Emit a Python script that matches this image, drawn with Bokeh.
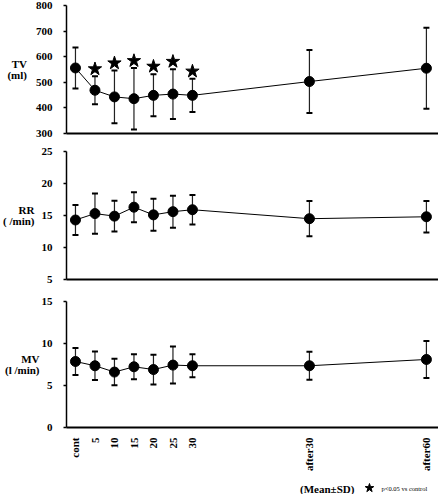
import math
from bokeh.plotting import figure
from bokeh.layouts import column
from bokeh.models import (ColumnDataSource, Whisker, TeeHead, FixedTicker, LinearAxis)
from bokeh.core.properties import value
from bokeh.embed import file_html
from bokeh.resources import INLINE

# ---------------- data ----------------
time = [0, 5, 10, 15, 20, 25, 30, 60, 90]
tick_labels = ["cont", "5", "10", "15", "20", "25", "30", "after30", "after60"]

tv_mean = [556, 469, 443, 436, 449, 454, 449, 503, 555]
tv_sd = [80, 55, 103, 120, 82, 97, 65, 123, 158]
star_time = [5, 10, 15, 20, 25, 30]
star_y = [552, 575, 584, 562, 581, 543]

rr_mean = [14.3, 15.3, 14.9, 16.3, 15.1, 15.6, 15.9, 14.5, 14.8]
rr_sd = [2.35, 3.15, 2.4, 2.35, 2.5, 2.5, 2.3, 2.75, 2.45]

mv_mean = [7.86, 7.35, 6.6, 7.23, 6.9, 7.43, 7.35, 7.35, 8.1]
mv_sd = [1.6, 1.7, 1.57, 1.5, 1.77, 2.2, 1.37, 1.68, 2.2]

tv_ticks = [300, 400, 500, 600, 700, 800]
rr_ticks = [5, 10, 15, 20, 25]
mv_ticks = [0, 5, 10, 15]

footer_main = "(Mean\u00b1SD)"
footer_note = "p<0.05  vs control"

# ---------------- layout constants ----------------
W = 438
BL = 66
X0, X1 = -2.3, 93.1
FONT = "Liberation Serif"
FS = "11px"


def make_panel(mean, sd, yr, ticks, height, top, bottom, show_x, ylabel, lab_standoff):
    p = figure(width=W, height=height, x_range=(X0, X1), y_range=yr,
               output_backend="svg", toolbar_location=None,
               min_border_left=BL, min_border_right=0,
               min_border_top=top, min_border_bottom=bottom,
               x_axis_location=None, y_axis_location=None)
    p.outline_line_color = None
    p.xgrid.visible = False
    p.ygrid.visible = False

    ya = LinearAxis(ticker=FixedTicker(ticks=ticks))
    ya.axis_line_color = "black"
    ya.axis_line_width = 1.5
    ya.major_tick_line_color = "black"
    ya.major_tick_line_width = 1.5
    ya.major_tick_out = 3
    ya.major_tick_in = 0
    ya.minor_tick_line_color = None
    ya.major_label_text_font = FONT
    ya.major_label_text_font_style = "bold"
    ya.major_label_text_font_size = FS
    ya.major_label_text_color = "black"
    ya.major_label_standoff = 11
    ya.axis_label = ylabel
    ya.axis_label_orientation = "horizontal"
    ya.axis_label_standoff = lab_standoff
    ya.axis_label_text_font = FONT
    ya.axis_label_text_font_style = "bold"
    ya.axis_label_text_font_size = FS
    ya.axis_label_text_color = "black"
    ya.axis_label_text_line_height = 0.95
    p.add_layout(ya, "left")

    if show_x:
        xa = LinearAxis(ticker=FixedTicker(ticks=time),
                        major_label_overrides={t: l for t, l in zip(time, tick_labels)})
        xa.major_label_orientation = math.pi / 2
        xa.major_label_text_font = FONT
        xa.major_label_text_font_style = "bold"
        xa.major_label_text_font_size = FS
        xa.major_label_text_color = "black"
        xa.major_label_standoff = 10
    else:
        xa = LinearAxis(ticker=FixedTicker(ticks=[]))
        xa.major_label_text_font_size = "0px"
        xa.major_label_standoff = 0
    xa.axis_line_color = "black"
    xa.axis_line_width = 2.2
    xa.major_tick_line_color = None
    xa.major_tick_out = 0
    xa.major_tick_in = 0
    xa.minor_tick_line_color = None
    p.add_layout(xa, "below")

    src = ColumnDataSource(dict(
        x=time, y=mean,
        upper=[m + s for m, s in zip(mean, sd)],
        lower=[m - s for m, s in zip(mean, sd)],
    ))
    wh = Whisker(source=src, base="x", upper="upper", lower="lower",
                 dimension="height", line_color="#222222", line_width=1.2,
                 upper_head=TeeHead(size=6, line_color="black", line_width=2),
                 lower_head=TeeHead(size=6, line_color="black", line_width=2))
    p.add_layout(wh)
    p.line("x", "y", source=src, line_color="black", line_width=1)
    p.scatter("x", "y", source=src, size=10, fill_color="black", line_color="black")
    return p


# Panel 1: TV
p1 = make_panel(tv_mean, tv_sd, (300, 800), tv_ticks, 142, 5, 9, False, "TV\n(ml)", 6)
p1.scatter(star_time, star_y, marker="star", size=14, fill_color="black",
           line_color="black")

# Panel 2: RR
p2 = make_panel(rr_mean, rr_sd, (5, 25), rr_ticks, 146, 9, 9, False, "RR\n( /min)", 4)

# Panel 3: MV
p3 = make_panel(mv_mean, mv_sd, (0, 15), mv_ticks, 192, 13, 53, True, "MV\n(l /min)", -1)

# footer strip (frame aligned with the panels, same x scale)
pf = figure(width=W, height=14, x_range=(X0, X1), y_range=(0, 14),
            output_backend="svg", toolbar_location=None, min_border=0,
            min_border_left=BL, x_axis_location=None, y_axis_location=None)
pf.outline_line_color = None
pf.xgrid.visible = False
pf.ygrid.visible = False
pf.text(x=[57.6], y=[6], text=[footer_main], text_font=value(FONT),
        text_font_style="bold", text_font_size="11px", text_baseline="middle",
        text_align="left", text_color="black")
pf.scatter(x=[75.4], y=[6.5], marker="star", size=9, fill_color="black",
           line_color="black")
pf.text(x=[78.5], y=[6], text=[footer_note], text_font=value(FONT),
        text_font_size="6.5px", text_baseline="middle", text_align="left",
        text_color="black")

layout = column(p1, p2, p3, pf, spacing=0)

open("out.html", "w").write(file_html(layout, INLINE))
